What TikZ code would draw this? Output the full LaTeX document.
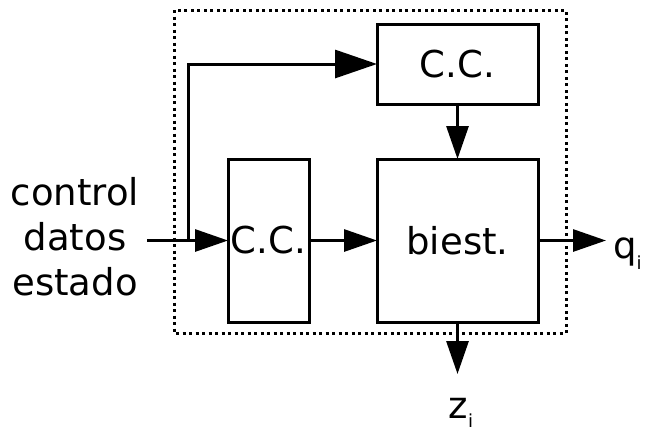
\documentclass[tikz,border=0pt]{standalone}
\usepackage{fontspec}
\setmainfont{DejaVu Sans}
\usetikzlibrary{arrows.meta}
\begin{document}
\begin{tikzpicture}[x=1pt,y=-1pt,
  blk/.style={draw,line width=3pt,inner sep=0pt,outer sep=0pt,font=\fontsize{37}{44}\selectfont},
  conn/.style={line width=3pt,-{Triangle[length=33pt,width=22pt]}},
  bigconn/.style={line width=3pt,-{Triangle[length=42pt,width=28pt]}},
  lbl/.style={font=\fontsize{37}{45}\selectfont,inner sep=0pt}]
\useasboundingbox (0,0) rectangle (652,432);
\draw[line width=3pt,dash pattern=on 3pt off 3.5pt] (174,10) rectangle (566,333);
\node[blk,minimum width=161pt,minimum height=80pt] (topcc) at (457.5,64) {C.C.};
\node[blk,minimum width=81pt,minimum height=163pt] (leftcc) at (268.5,240.5) {C.C.};
\node[blk,minimum width=161pt,minimum height=163pt] (biest) at (457.5,240.5) {biest.};
\node[lbl,align=center] (inp) at (75,237) {control\\datos\\estado};
\coordinate (in0) at (147,240.5);
\coordinate (br) at (188,240.5);
\coordinate (qend) at (606,240.5);
\coordinate (zend) at (457.5,374);
\draw[conn] (in0) -- (leftcc.west);
\draw[bigconn] (br) |- (topcc.west);
\draw[conn] (leftcc.east) -- (biest.west);
\draw[conn] (topcc.south) -- (biest.north);
\draw[conn] (biest.east) -- (qend);
\draw[conn] (biest.south) -- (zend);
\node[lbl,anchor=base west] (q) at (613,258) {q\raisebox{-0.3em}{\fontsize{18}{18}\selectfont i}};
\node[lbl,anchor=base] (z) at (461,418) {z\raisebox{-0.25em}{\fontsize{18}{18}\selectfont i}};
\end{tikzpicture}
\end{document}
